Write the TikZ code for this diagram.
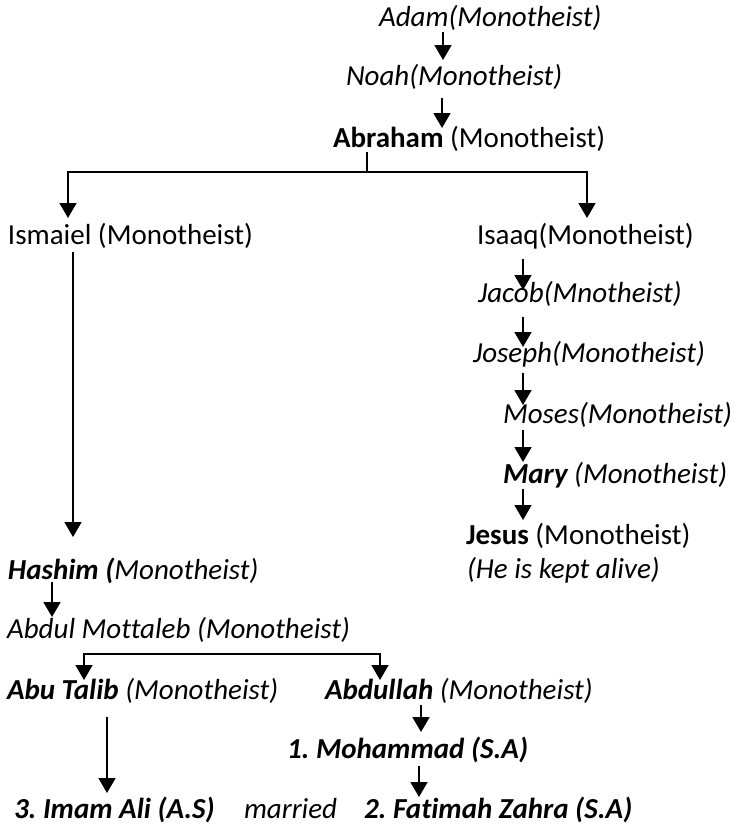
\documentclass[tikz,border=0pt]{standalone}
\usepackage{fontspec}
\setmainfont{Carlito}[Ligatures={NoCommon,NoContextual}]
\usetikzlibrary{arrows.meta,calc}
\frenchspacing
\tikzset{
  lbl/.style={anchor=base west,inner sep=0pt,outer sep=0pt,font=\fontsize{29pt}{34pt}\selectfont},
  conn/.style={line width=1.7pt,black},
  arr/.style={conn,-{Triangle[length=15pt,width=17pt]}},
  arrs/.style={conn,{Triangle[length=15pt,width=17pt]}-{Triangle[length=15pt,width=17pt]}}
}
\begin{document}
\begin{tikzpicture}[x=1pt,y=-1pt]
\useasboundingbox (0,0) rectangle (736,825);
% nodes
\node[lbl] (adam) at (379,26) {\textit{Adam(Monotheist)}};
\node[lbl] (noah) at (346,85) {\textit{Noah(Monotheist)}};
\node[lbl] (abraham) at (333,147) {\textbf{Abraham} (Monotheist)};
\node[lbl] (ismaiel) at (8,244) {Ismaiel (Monotheist)};
\node[lbl] (isaaq) at (477,244) {Isaaq(Monotheist)};
\node[lbl] (jacob) at (478,302) {\textit{Jacob(Mnotheist)}};
\node[lbl] (joseph) at (473,362) {\textit{Joseph(Monotheist)}};
\node[lbl] (moses) at (503,423) {\textit{Moses(Monotheist)}};
\node[lbl] (mary) at (503,483) {\textit{\textbf{Mary} (Monotheist)}};
\node[lbl] (jesus) at (466,544) {\textbf{Jesus} (Monotheist)};
\node[lbl] (alive) at (467,578) {\textit{(He is kept alive)}};
\node[lbl] (hashim) at (8,579) {\textit{\textbf{Hashim (}Monotheist)}};
\node[lbl] (abdul) at (7,638) {\textit{Abdul Mottaleb (Monotheist)}};
\node[lbl] (abutalib) at (7,699) {\textit{\textbf{Abu Talib} (Monotheist)}};
\node[lbl] (abdullah) at (325,699) {\textit{\textbf{Abdullah} (Monotheist)}};
\node[lbl] (mohammad) at (287,758) {\textit{\textbf{1. Mohammad (S.A)}}};
\node[lbl] (imamali) at (14,818) {\textit{\textbf{3. Imam Ali (A.S)}}};
\node[lbl] (married) at (244,818) {\textit{married}};
\node[lbl] (fatimah) at (364,818) {\textit{\textbf{2. Fatimah Zahra (S.A)}}};
% connectors
\draw[arr] ($(adam.base west)+(64,6)$) -- ($(noah.base west)+(97,-25)$);
\draw[arr] ($(noah.base west)+(96,13)$) -- ($(abraham.base west)+(109,-19)$);
\draw[conn] ($(abraham.base west)+(34,5)$) -- ($(abraham.base west)+(34,25)$);
\draw[arrs] ($(ismaiel.base west)+(60,-26)$) |- ($(abraham.base west)+(34,25)$) -| ($(isaaq.base west)+(110,-26)$);
\draw[arr] ($(ismaiel.base west)+(65,8)$) -- ($(hashim.base west)+(65,-42)$);
\draw[arr] ($(isaaq.base west)+(46,15)$) -- ($(jacob.base west)+(45,-12)$);
\draw[arr] ($(jacob.base west)+(45,15)$) -- ($(joseph.base west)+(50,-15)$);
\draw[arr] ($(joseph.base west)+(50,11)$) -- ($(moses.base west)+(20,-18)$);
\draw[arr] ($(moses.base west)+(20,7)$) -- ($(mary.base west)+(20,-21)$);
\draw[arr] ($(mary.base west)+(20,6)$) -- ($(jesus.base west)+(57,-24)$);
\draw[arr] ($(hashim.base west)+(44,3)$) -- ($(abdul.base west)+(45,-21)$);
\draw[arrs] ($(abutalib.base west)+(77,-19)$) |- ($(abdul.base west)+(200,16)$) -| ($(abdullah.base west)+(55,-19)$);
\draw[arr] ($(abutalib.base west)+(100,18)$) -- ($(imamali.base west)+(93,-25)$);
\draw[arr] ($(abdullah.base west)+(96,6)$) -- ($(mohammad.base west)+(134,-26)$);
\draw[arr] ($(mohammad.base west)+(132,8)$) -- ($(fatimah.base west)+(55,-21)$);
\end{tikzpicture}
\end{document}
